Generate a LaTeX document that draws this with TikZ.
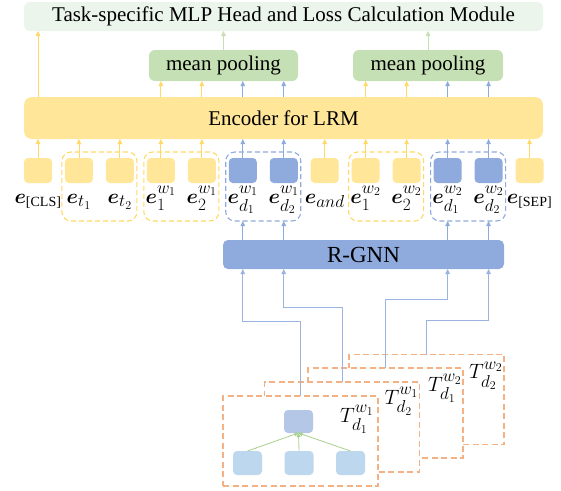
\documentclass[tikz,border=0pt]{standalone}
\usepackage{fontspec}
\setmainfont{Liberation Serif}
\usepackage{amsmath,bm}
\usetikzlibrary{arrows.meta,calc}
\DeclareMathSizes{21}{21}{16.5}{13}

\definecolor{tokyel}{HTML}{FFE699}
\definecolor{lineyel}{HTML}{FFD966}
\definecolor{tokblu}{HTML}{8FAADC}
\definecolor{lineblu}{HTML}{8FAADC}
\definecolor{linkblu}{HTML}{9AB3E0}
\definecolor{headgrn}{HTML}{EBF5EC}
\definecolor{poolgrn}{HTML}{C5E0B4}
\definecolor{treeorg}{HTML}{F4B183}
\definecolor{rootblu}{HTML}{B4C7E7}
\definecolor{leafblu}{HTML}{BDD7EE}
\definecolor{treegrn}{HTML}{A9D18E}

\newcommand{\tagsub}[1]{\text{\fontsize{14}{16}\selectfont #1}}

\tikzset{
  box/.style={rectangle, inner sep=0pt, outer sep=0pt},
  bigtext/.style={font=\fontsize{21}{24}\selectfont},
  headbox/.style={box, bigtext, fill=headgrn, rounded corners=6pt},
  poolbox/.style={box, bigtext, fill=poolgrn, rounded corners=6pt},
  encbox/.style={box, bigtext, fill=tokyel, rounded corners=8pt},
  gnnbox/.style={box, font=\fontsize{23}{26}\selectfont, fill=tokblu, rounded corners=5pt},
  tokY/.style={box, fill=tokyel, minimum width=28pt, minimum height=25pt, rounded corners=4pt},
  tokB/.style={box, fill=tokblu, minimum width=28pt, minimum height=25pt, rounded corners=4pt},
  grpY/.style={box, draw=lineyel, line width=1.1pt, dash pattern=on 5pt off 3pt,
    rounded corners=9pt, minimum width=75pt, minimum height=69pt},
  grpB/.style={grpY, draw=lineblu},
  lab/.style={anchor=base, inner sep=0pt, font=\fontsize{21}{24}\selectfont},
  treebox/.style={box, fill=white, draw=treeorg, line width=1.1pt,
    dash pattern=on 6pt off 3.5pt, minimum width=155pt, minimum height=90pt},
  treelab/.style={anchor=north east, inner sep=0pt, font=\fontsize{21}{24}\selectfont},
  rootnode/.style={box, fill=rootblu, minimum width=29pt, minimum height=23pt, rounded corners=4pt},
  leafnode/.style={box, fill=leafblu, minimum width=29pt, minimum height=24pt, rounded corners=4pt},
  arr/.style={-{Triangle[length=5pt,width=4.5pt]}, line width=0.9pt},
}

\begin{document}
\begin{tikzpicture}[x=1pt,y=-1pt]
\useasboundingbox (0,0) rectangle (561,490);

% top: task head, pooling and encoder
\node[headbox, minimum width=519pt, minimum height=29pt] (head) at (283.5,16.5)
  {Task-specific MLP Head and Loss Calculation Module};
\node[poolbox, minimum width=149pt, minimum height=31pt] (mp1) at (223.5,65.5) {mean pooling};
\node[poolbox, minimum width=150pt, minimum height=31pt] (mp2) at (428,65.5) {mean pooling};
\node[encbox, minimum width=519pt, minimum height=42pt] (enc) at (283.5,118) {Encoder for LRM};

% token embeddings
\foreach \i/\s in {1/Y,2/Y,3/Y,4/Y,5/Y,6/B,7/B,8/Y,9/Y,10/Y,11/B,12/B,13/Y}
  \node[tok\s] (t\i) at ({38+40.96*(\i-1)},170.5) {};

% dashed groups around token pairs
\node[grpY] (g1) at ($(t2)!0.5!(t3)+(0,16)$) {};
\node[grpY] (g2) at ($(t4)!0.5!(t5)+(0,16)$) {};
\node[grpB] (g3) at ($(t6)!0.5!(t7)+(0,16)$) {};
\node[grpY] (g4) at ($(t9)!0.5!(t10)+(0,16)$) {};
\node[grpB] (g5) at ($(t11)!0.5!(t12)+(0,16)$) {};

% token labels
\node[lab] (l1)  at (t1  |- 0,203) {$\bm{e}_{\tagsub{[CLS]}}$};
\node[lab] (l2)  at (t2  |- 0,203) {$\bm{e}_{t_1}$};
\node[lab] (l3)  at (t3  |- 0,203) {$\bm{e}_{t_2}$};
\node[lab] (l4)  at (t4  |- 0,203) {$\bm{e}_1^{w_1}$};
\node[lab] (l5)  at (t5  |- 0,203) {$\bm{e}_2^{w_1}$};
\node[lab] (l6)  at (t6  |- 0,203) {$\bm{e}_{d_1}^{w_1}$};
\node[lab] (l7)  at (t7  |- 0,203) {$\bm{e}_{d_2}^{w_1}$};
\node[lab] (l8)  at (t8  |- 0,203) {$\bm{e}_{and}$};
\node[lab] (l9)  at (t9  |- 0,203) {$\bm{e}_1^{w_2}$};
\node[lab] (l10) at (t10 |- 0,203) {$\bm{e}_2^{w_2}$};
\node[lab] (l11) at (t11 |- 0,203) {$\bm{e}_{d_1}^{w_2}$};
\node[lab] (l12) at (t12 |- 0,203) {$\bm{e}_{d_2}^{w_2}$};
\node[lab] (l13) at (t13 |- 0,203) {$\bm{e}_{\tagsub{[SEP]}}$};

% tokens into the encoder
\foreach \i/\c in {1/lineyel,2/lineyel,3/lineyel,4/lineyel,5/lineyel,6/lineblu,7/lineblu,
                   8/lineyel,9/lineyel,10/lineyel,11/lineblu,12/lineblu,13/lineyel}
  \draw[arr, \c] (t\i.north) -- (enc.south -| t\i.north);

% encoder outputs into pooling and head
\draw[arr, lineyel] (enc.north -| t1) -- (head.south -| t1);
\foreach \i/\c in {4/lineyel,5/lineyel,6/lineblu,7/lineblu}
  \draw[arr, \c] (enc.north -| t\i) -- (mp1.south -| t\i);
\foreach \i/\c in {9/lineyel,10/lineyel,11/lineblu,12/lineblu}
  \draw[arr, \c] (enc.north -| t\i) -- (mp2.south -| t\i);
\draw[arr, poolgrn] (mp1.north) -- (head.south -| mp1.north);
\draw[arr, poolgrn] (mp2.north) -- (head.south -| mp2.north);

% relational graph network
\node[gnnbox, minimum width=281pt, minimum height=29pt] (rg) at (363.5,254.5) {R-GNN};
\foreach \i/\g in {6/g3,7/g3,11/g5,12/g5}
  \draw[arr, lineblu] (rg.north -| t\i) -- (\g.south -| t\i);

% stacked dependency trees, back to front
\node[treebox] (tb4) at (426.5,399.5) {};
\node[treelab] at ($(tb4.north east)+(-1,7)$) {$T_{d_2}^{w_2}$};
\node[treebox] (tb3) at (385.5,413) {};
\node[treelab] at ($(tb3.north east)+(-1,6)$) {$T_{d_1}^{w_2}$};
\node[treebox] (tb2) at (342,427) {};
\node[treelab] at ($(tb2.north east)+(-1,5)$) {$T_{d_2}^{w_1}$};
\node[treebox] (tb1) at (300.5,441) {};
\node[treelab] at ($(tb1.north east)+(-4,9)$) {$T_{d_1}^{w_1}$};

% tree inside the front sheet
\node[rootnode] (root) at (298.5,421.5) {};
\node[leafnode] (lf1) at (247.5,463) {};
\node[leafnode] (lf2) at (299,463) {};
\node[leafnode] (lf3) at (350.5,463) {};
\foreach \k in {1,2,3}
  \draw[-{Triangle[length=4pt,width=4pt]}, line width=0.8pt, treegrn] (lf\k.north) -- (root.south);

% tree sheets into the graph network
\draw[arr, linkblu] (tb1.north) -- (tb1.north |- 0,321) -- (t6 |- 0,321) -- (rg.south -| t6);
\draw[arr, linkblu] (tb2.north) -- (tb2.north |- 0,307) -- (t7 |- 0,307) -- (rg.south -| t7);
\draw[arr, linkblu] (tb3.north) -- (tb3.north |- 0,299) -- (t11 |- 0,299) -- (rg.south -| t11);
\draw[arr, linkblu] (tb4.north) -- (tb4.north |- 0,320) -- (t12 |- 0,320) -- (rg.south -| t12);
\end{tikzpicture}
\end{document}
